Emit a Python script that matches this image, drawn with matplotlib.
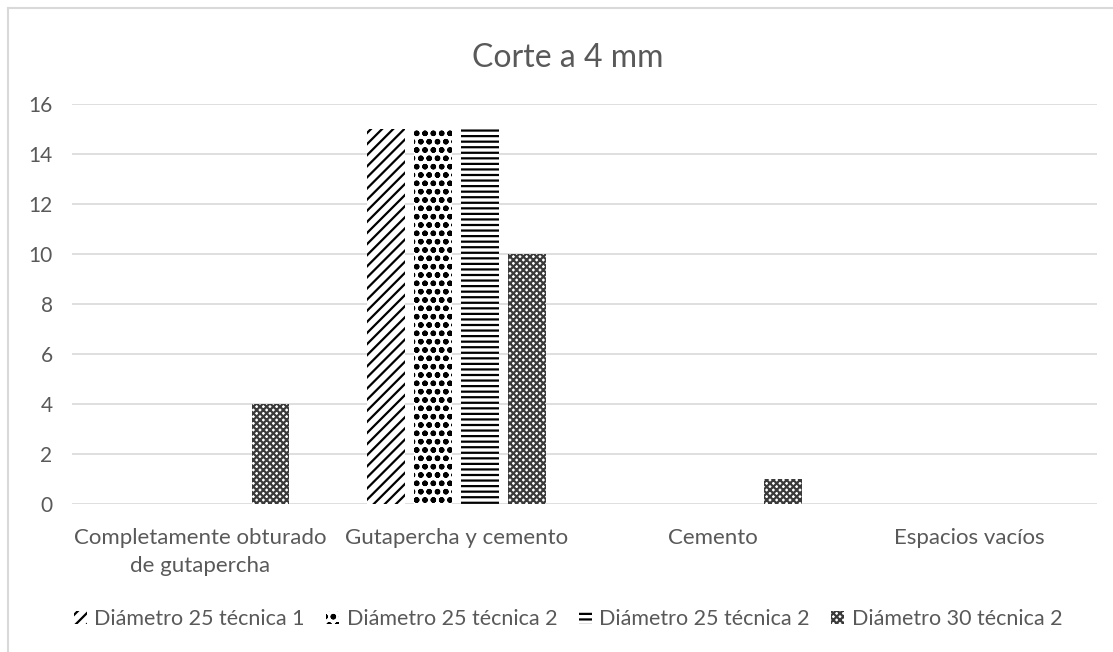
import numpy as np
import matplotlib
matplotlib.use('Agg')
import matplotlib.pyplot as plt
from matplotlib.lines import Line2D

# Chart data
categories = ['Completamente obturado\nde gutapercha', 'Gutapercha y cemento', 'Cemento', 'Espacios vacíos']
series_names = ['Diámetro 25 técnica 1', 'Diámetro 25 técnica 2', 'Diámetro 25 técnica 2', 'Diámetro 30 técnica 2']
diam25_tec1 = [0, 15, 0, 0]
diam25_tec2a = [0, 15, 0, 0]
diam25_tec2b = [0, 15, 0, 0]
diam30_tec2 = [4, 10, 1, 0]

series = [diam25_tec1, diam25_tec2a, diam25_tec2b, diam30_tec2]
hatches = ['///', 'oo', '---', 'xxxxx']
hatch_colors = ['black', 'black', 'black', '#3a3a3a']

plt.rcParams['font.family'] = ['Lato', 'DejaVu Sans']
plt.rcParams['hatch.linewidth'] = 1.6
text_color = '#595959'

fig = plt.figure(figsize=(11.13, 6.52), dpi=100)
ax = fig.add_axes([72 / 1113, 1 - 504 / 652, (1097 - 72) / 1113, 400 / 652])

x = np.arange(len(categories))
step = 0.183
width = 0.148
for i, (vals, h) in enumerate(zip(series, hatches)):
    ax.bar(x + (i - 1.5) * step, vals, width, facecolor='white', edgecolor=hatch_colors[i],
           linewidth=0, hatch=h, label=series_names[i], zorder=3)

ax.set_xlim(-0.5, 3.5)
ax.set_ylim(0, 16)
ax.set_yticks(range(0, 17, 2))
ax.set_xticks(x)
ax.set_xticklabels(categories, fontsize=16, linespacing=1.5)
ax.grid(axis='y', color='#d9d9d9', linewidth=1.2, zorder=0)
for s in ax.spines.values():
    s.set_visible(False)
ax.tick_params(axis='both', length=0, labelcolor=text_color)
ax.tick_params(axis='y', labelsize=15, pad=14)
ax.tick_params(axis='x', pad=17)

fig.text(568 / 1113, 1 - 58 / 652, 'Corte a 4 mm', ha='center', va='center',
         fontsize=23, color=text_color)

leg = fig.legend(loc='center', bbox_to_anchor=(568 / 1113, 1 - 619 / 652), ncol=4,
                 frameon=False, fontsize=15.5, handlelength=0.6, handleheight=0.6,
                 handletextpad=0.35, columnspacing=1.0, labelcolor=text_color)

# chart border (top and left visible in the crop)
fig.add_artist(Line2D([8 / 1113, 1], [1 - 8 / 652, 1 - 8 / 652], color='#d9d9d9', linewidth=1.5))
fig.add_artist(Line2D([8 / 1113, 8 / 1113], [0, 1 - 8 / 652], color='#d9d9d9', linewidth=1.5))

fig.savefig('out.png', dpi=100, facecolor='white')
